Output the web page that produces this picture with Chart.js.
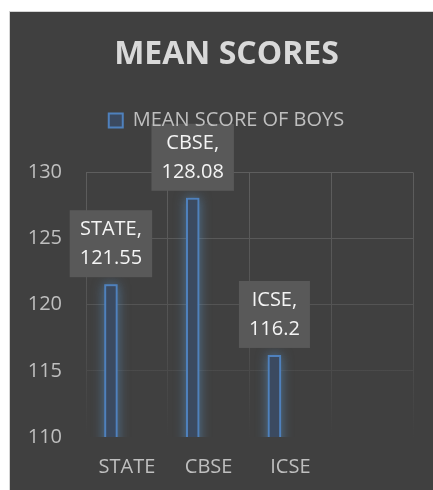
<!DOCTYPE html>
<html lang="en">

<head>
    <meta charset="UTF-8">
    <title>Mean Scores</title>
    <script src="https://cdn.jsdelivr.net/npm/chart.js"></script>
    <style>
        body { margin: 0; background: #fff; }
        #wrap {
            position: absolute; left: 9px; top: 11px;
            width: 423px; height: 478px;
            background: #404040;
            border-left: 1px solid #d4d4d4;
            border-top: 1px solid #d4d4d4;
        }
    </style>
</head>

<body>
    <div id="wrap"><canvas id="scoreChart" width="423" height="478"></canvas></div>
    <script>
        // data
        const boards = ['STATE', 'CBSE', 'ICSE', ''];
        const boysScores = [121.55, 128.08, 116.2, null];
        const yTicks = [110, 115, 120, 125, 130];

        const font = 'Open Sans';

        // grid fades out toward the bottom
        function gridColor(c) {
            const area = c.chart.chartArea;
            if (!area) return '#5a5a5a';
            const g = c.chart.ctx.createLinearGradient(0, area.top, 0, area.bottom);
            g.addColorStop(0, '#5e5e5e');
            g.addColorStop(0.55, '#535353');
            g.addColorStop(1, '#404040');
            return g;
        }

        // glow on bars + boxed data labels, legend on top
        const barDeco = {
            id: 'barDeco',
            beforeInit(chart) {
                const lg = chart.legend;
                const fit = lg.fit;
                lg.fit = function () {
                    fit.bind(lg)();
                    this.height += 32;
                };
                lg._layers = () => [{ z: 1, draw: (area) => lg.draw(area) }];
            },
            afterLayout(chart) {
                // title & legend sit a bit right of the canvas centre
                [chart.titleBlock, chart.legend].forEach(b => {
                    if (!b) return;
                    b.left += 15;
                    b.right += 15;
                });
            },
            beforeDatasetsDraw(chart) {
                const ctx = chart.ctx;
                const a = chart.chartArea;
                ctx.save();
                ctx.beginPath();
                ctx.rect(a.left, a.top, a.right - a.left, a.bottom - a.top);
                ctx.clip();
                ctx.shadowColor = 'rgba(91,155,213,0.95)';
                ctx.shadowBlur = 12;
                ctx.fillStyle = 'rgba(79,129,189,0.6)';
                chart.getDatasetMeta(0).data.forEach((bar, i) => {
                    if (boysScores[i] == null) return;
                    const p = bar.getProps(['x', 'y', 'base', 'width'], true);
                    ctx.fillRect(p.x - p.width / 2, p.y, p.width, p.base - p.y);
                });
                ctx.restore();
            },
            afterDatasetsDraw(chart) {
                const ctx = chart.ctx;
                ctx.save();
                ctx.font = '20px "' + font + '"';
                ctx.textAlign = 'center';
                ctx.textBaseline = 'middle';
                const meta = chart.getDatasetMeta(0);
                meta.data.forEach((bar, i) => {
                    const v = boysScores[i];
                    if (v == null) return;
                    const lines = [boards[i] + ',', String(v)];
                    const w = Math.max(...lines.map(t => ctx.measureText(t).width)) + 20;
                    const lh = 29;
                    const h = lines.length * lh + 9;
                    const bottom = bar.y - 7;
                    const top = bottom - h;
                    ctx.fillStyle = '#595959';
                    ctx.fillRect(bar.x - w / 2, top, w, h);
                    ctx.fillStyle = '#f4f4f4';
                    lines.forEach((t, k) => {
                        ctx.fillText(t, bar.x, top + 4.5 + lh / 2 + k * lh);
                    });
                });
                ctx.restore();
            }
        };

        const ctx = document.getElementById('scoreChart').getContext('2d');
        new Chart(ctx, {
            type: 'bar',
            data: {
                labels: boards,
                datasets: [
                    {
                        label: 'MEAN SCORE OF BOYS',
                        data: boysScores,
                        backgroundColor: '#3b4a60',
                        borderColor: '#4f81bd',
                        borderWidth: 2,
                        borderSkipped: false,
                        categoryPercentage: 0.78,
                        barPercentage: 0.42
                    },
                    {
                        label: '',
                        data: [],
                        categoryPercentage: 0.78,
                        barPercentage: 0.42
                    }
                ]
            },
            options: {
                responsive: false,
                animation: false,
                layout: { padding: { left: 0, right: 20, top: 0, bottom: 0 } },
                plugins: {
                    title: {
                        display: true,
                        text: 'MEAN SCORES',
                        color: '#d9d9d9',
                        font: { family: font, size: 32, weight: 'bold' },
                        padding: { top: 24, bottom: 26 }
                    },
                    legend: {
                        position: 'top',
                        labels: {
                            color: '#bfbfbf',
                            font: { family: font, size: 20 },
                            boxWidth: 14,
                            boxHeight: 14,
                            padding: 10,
                            filter: item => item.text !== ''
                        }
                    },
                    tooltip: { enabled: false }
                },
                scales: {
                    x: {
                        grid: { color: gridColor, drawTicks: false, offset: true },
                        border: { display: false },
                        ticks: { color: '#bfbfbf', font: { family: font, size: 20 }, padding: 18 },
                        afterFit(scale) { scale.height = 53; }
                    },
                    y: {
                        min: yTicks[0],
                        max: yTicks[yTicks.length - 1],
                        afterBuildTicks(scale) { scale.ticks = yTicks.map(v => ({ value: v })); },
                        grid: { color: gridColor, drawTicks: false },
                        border: { display: false },
                        ticks: { color: '#bfbfbf', font: { family: font, size: 20 }, padding: 24 },
                        afterFit(scale) { scale.width = 76; }
                    }
                }
            },
            plugins: [barDeco]
        });
    </script>
</body>

</html>
